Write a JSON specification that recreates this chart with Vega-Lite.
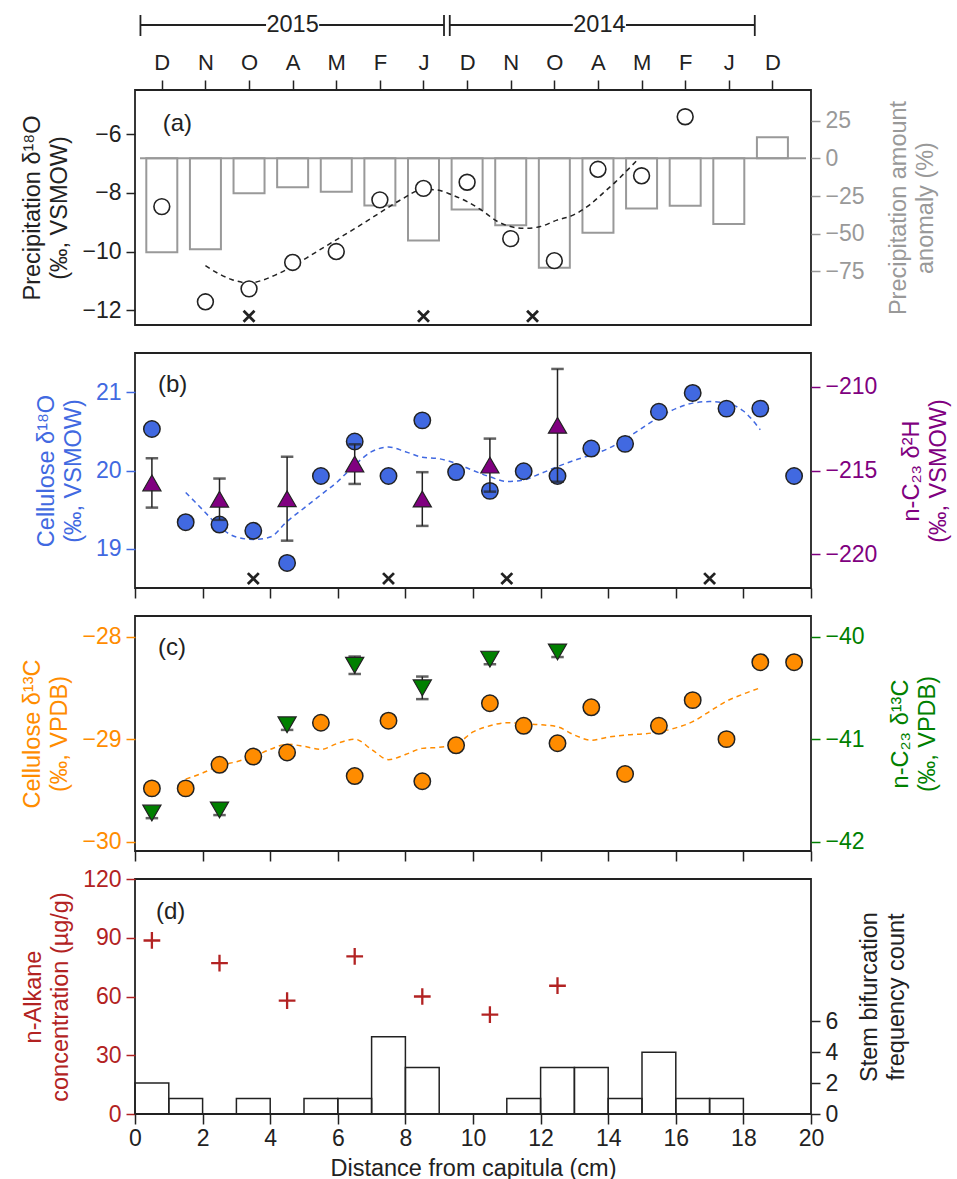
{
  "$schema": "https://vega.github.io/schema/vega-lite/v6.json",
  "background": "white",
  "padding": {"left": 20, "top": 13, "right": 2, "bottom": 2},
  "bounds": "flush",
  "spacing": 28,
  "config": {
    "font": "Liberation Sans",
    "view": {"stroke": "#222", "strokeWidth": 1.8},
    "axis": {"labelFontSize": 23, "titleFontSize": 23.5, "titleFontWeight": "normal", "domain": false, "grid": false, "tickSize": 9, "tickWidth": 1.5, "labelPadding": 5, "titlePadding": 10, "titleLineHeight": 27, "labelFlush": false, "labelOverlap": false, "labelBound": false, "labelColor": "#222", "tickColor": "#222", "titleColor": "#222"}
  },
  "datasets": {
    "bracket": [
      {"x0": -0.377, "x1": 2.46, "y0": 0.787, "y1": 0.787},
      {"x0": 3.66, "x1": 6.48, "y0": 0.787, "y1": 0.787},
      {"x0": 6.61, "x1": 9.39, "y0": 0.787, "y1": 0.787},
      {"x0": 10.59, "x1": 13.5, "y0": 0.787, "y1": 0.787},
      {"x0": -0.377, "x1": -0.377, "y0": 0.553, "y1": 1.0},
      {"x0": 6.48, "x1": 6.48, "y0": 0.553, "y1": 1.0},
      {"x0": 6.61, "x1": 6.61, "y0": 0.553, "y1": 1.0},
      {"x0": 13.5, "x1": 13.5, "y0": 0.553, "y1": 1.0}
    ],
    "years": [
      {"x0": 3.06, "y0": 0.787, "label": "2015"},
      {"x0": 9.99, "y0": 0.787, "label": "2014"}
    ],
    "precip": [
      {"i": 0, "month": "D", "anom": -62.3, "d18O": -8.47},
      {"i": 1, "month": "N", "anom": -60.3, "d18O": -11.71},
      {"i": 2, "month": "O", "anom": -23.2, "d18O": -11.27},
      {"i": 3, "month": "A", "anom": -19.2, "d18O": -10.37},
      {"i": 4, "month": "M", "anom": -22.1, "d18O": -10.0},
      {"i": 5, "month": "F", "anom": -31.2, "d18O": -8.24},
      {"i": 6, "month": "J", "anom": -54.4, "d18O": -7.85},
      {"i": 7, "month": "D", "anom": -33.9, "d18O": -7.64},
      {"i": 8, "month": "N", "anom": -44.3, "d18O": -9.56},
      {"i": 9, "month": "O", "anom": -72.5, "d18O": -10.31},
      {"i": 10, "month": "A", "anom": -49.3, "d18O": -7.2},
      {"i": 11, "month": "M", "anom": -33.2, "d18O": -7.42},
      {"i": 12, "month": "F", "anom": -31.4, "d18O": -5.41},
      {"i": 13, "month": "J", "anom": -43.6, "d18O": null},
      {"i": 14, "month": "D", "anom": 13.9, "d18O": null}
    ],
    "zeroA": [{"i": -0.5, "i2": 14.77, "anom": 0}],
    "fitA": [
      {"i": 1.0, "v": -10.48}, {"i": 1.3, "v": -10.75}, {"i": 1.6, "v": -10.95}, {"i": 2.0, "v": -11.07},
      {"i": 2.3, "v": -10.98}, {"i": 2.6, "v": -10.8}, {"i": 3.0, "v": -10.5}, {"i": 3.5, "v": -10.05},
      {"i": 4.0, "v": -9.6}, {"i": 4.5, "v": -9.15}, {"i": 5.0, "v": -8.68}, {"i": 5.5, "v": -8.22},
      {"i": 6.0, "v": -7.88}, {"i": 6.3, "v": -7.9}, {"i": 6.65, "v": -8.07}, {"i": 7.0, "v": -8.3},
      {"i": 7.33, "v": -8.59}, {"i": 7.7, "v": -8.98}, {"i": 8.0, "v": -9.15}, {"i": 8.31, "v": -9.21},
      {"i": 8.68, "v": -9.15}, {"i": 9.06, "v": -8.93}, {"i": 9.43, "v": -8.76}, {"i": 9.81, "v": -8.41},
      {"i": 10.11, "v": -8.02}, {"i": 10.41, "v": -7.62}, {"i": 10.68, "v": -7.22}, {"i": 10.94, "v": -6.83}
    ],
    "crossA": [{"i": 2, "v": -12.2}, {"i": 6, "v": -12.2}, {"i": 8.5, "v": -12.2}],
    "cellO": [
      {"cm": 0.5, "v": 20.53}, {"cm": 1.5, "v": 19.34}, {"cm": 2.5, "v": 19.31}, {"cm": 3.5, "v": 19.23},
      {"cm": 4.5, "v": 18.82}, {"cm": 5.5, "v": 19.93}, {"cm": 6.5, "v": 20.37}, {"cm": 7.5, "v": 19.93},
      {"cm": 8.5, "v": 20.64}, {"cm": 9.5, "v": 19.98}, {"cm": 10.5, "v": 19.74}, {"cm": 11.5, "v": 19.99},
      {"cm": 12.5, "v": 19.93}, {"cm": 13.5, "v": 20.28}, {"cm": 14.5, "v": 20.34}, {"cm": 15.5, "v": 20.75},
      {"cm": 16.5, "v": 20.99}, {"cm": 17.5, "v": 20.79}, {"cm": 18.5, "v": 20.79}, {"cm": 19.5, "v": 19.93}
    ],
    "fitB": [
      {"cm": 1.5, "v": 19.72}, {"cm": 2.0, "v": 19.5}, {"cm": 2.5, "v": 19.28}, {"cm": 3.0, "v": 19.15},
      {"cm": 3.5, "v": 19.12}, {"cm": 4.0, "v": 19.15}, {"cm": 4.5, "v": 19.35}, {"cm": 5.0, "v": 19.52},
      {"cm": 5.5, "v": 19.69}, {"cm": 6.0, "v": 19.86}, {"cm": 6.5, "v": 20.07}, {"cm": 7.0, "v": 20.24},
      {"cm": 7.5, "v": 20.3}, {"cm": 8.0, "v": 20.24}, {"cm": 8.5, "v": 20.17}, {"cm": 9.0, "v": 20.15},
      {"cm": 9.5, "v": 20.09}, {"cm": 10.0, "v": 20.0}, {"cm": 10.5, "v": 19.92}, {"cm": 11.0, "v": 19.86},
      {"cm": 11.5, "v": 19.88}, {"cm": 12.0, "v": 19.96}, {"cm": 12.5, "v": 20.05}, {"cm": 13.0, "v": 20.13},
      {"cm": 13.5, "v": 20.2}, {"cm": 14.0, "v": 20.28}, {"cm": 14.5, "v": 20.4}, {"cm": 15.0, "v": 20.54},
      {"cm": 15.5, "v": 20.68}, {"cm": 16.0, "v": 20.79}, {"cm": 16.5, "v": 20.86}, {"cm": 17.0, "v": 20.88},
      {"cm": 17.5, "v": 20.86}, {"cm": 18.0, "v": 20.76}, {"cm": 18.5, "v": 20.52}
    ],
    "crossB": [{"cm": 3.5, "v": 18.62}, {"cm": 7.5, "v": 18.62}, {"cm": 11.0, "v": 18.62}, {"cm": 17.0, "v": 18.62}],
    "d2H": [
      {"cm": 0.5, "v": -215.74, "err": 1.47}, {"cm": 2.5, "v": -216.71, "err": 1.23},
      {"cm": 4.5, "v": -216.68, "err": 2.5}, {"cm": 6.5, "v": -214.62, "err": 1.18},
      {"cm": 8.5, "v": -216.7, "err": 1.6}, {"cm": 10.5, "v": -214.68, "err": 1.58},
      {"cm": 12.5, "v": -212.31, "err": 3.36}
    ],
    "cellC": [
      {"cm": 0.5, "v": -29.48}, {"cm": 1.5, "v": -29.48}, {"cm": 2.5, "v": -29.25}, {"cm": 3.5, "v": -29.17},
      {"cm": 4.5, "v": -29.13}, {"cm": 5.5, "v": -28.84}, {"cm": 6.5, "v": -29.36}, {"cm": 7.5, "v": -28.82},
      {"cm": 8.5, "v": -29.41}, {"cm": 9.5, "v": -29.06}, {"cm": 10.5, "v": -28.65}, {"cm": 11.5, "v": -28.87},
      {"cm": 12.5, "v": -29.04}, {"cm": 13.5, "v": -28.69}, {"cm": 14.5, "v": -29.34}, {"cm": 15.5, "v": -28.87},
      {"cm": 16.5, "v": -28.62}, {"cm": 17.5, "v": -29.0}, {"cm": 18.5, "v": -28.25}, {"cm": 19.5, "v": -28.25}
    ],
    "fitC": [
      {"cm": 1.5, "v": -29.39}, {"cm": 2.0, "v": -29.33}, {"cm": 2.5, "v": -29.26}, {"cm": 3.0, "v": -29.22},
      {"cm": 3.5, "v": -29.17}, {"cm": 4.0, "v": -29.1}, {"cm": 4.5, "v": -29.05}, {"cm": 5.0, "v": -29.07},
      {"cm": 5.5, "v": -29.1}, {"cm": 6.0, "v": -29.04}, {"cm": 6.5, "v": -29.0}, {"cm": 7.0, "v": -29.1},
      {"cm": 7.5, "v": -29.2}, {"cm": 8.0, "v": -29.15}, {"cm": 8.5, "v": -29.09}, {"cm": 9.0, "v": -29.08},
      {"cm": 9.5, "v": -29.05}, {"cm": 10.0, "v": -28.93}, {"cm": 10.5, "v": -28.87}, {"cm": 11.0, "v": -28.84},
      {"cm": 11.5, "v": -28.85}, {"cm": 12.0, "v": -28.86}, {"cm": 12.5, "v": -28.88}, {"cm": 13.0, "v": -28.96},
      {"cm": 13.5, "v": -29.01}, {"cm": 14.0, "v": -28.98}, {"cm": 14.5, "v": -28.96}, {"cm": 15.0, "v": -28.95},
      {"cm": 15.5, "v": -28.93}, {"cm": 16.0, "v": -28.89}, {"cm": 16.5, "v": -28.83}, {"cm": 17.0, "v": -28.73},
      {"cm": 17.5, "v": -28.63}, {"cm": 18.0, "v": -28.56}, {"cm": 18.5, "v": -28.5}
    ],
    "d13C": [
      {"cm": 0.5, "v": -41.72, "err": 0.05}, {"cm": 2.5, "v": -41.69, "err": 0.05},
      {"cm": 4.5, "v": -40.86, "err": 0.05}, {"cm": 6.5, "v": -40.28, "err": 0.085},
      {"cm": 8.5, "v": -40.5, "err": 0.11}, {"cm": 10.5, "v": -40.22, "err": 0.05},
      {"cm": 12.5, "v": -40.15, "err": 0.05}
    ],
    "hist": [
      {"cm": 0, "cm2": 1, "n": 2}, {"cm": 1, "cm2": 2, "n": 1}, {"cm": 3, "cm2": 4, "n": 1},
      {"cm": 5, "cm2": 6, "n": 1}, {"cm": 6, "cm2": 7, "n": 1}, {"cm": 7, "cm2": 8, "n": 5},
      {"cm": 8, "cm2": 9, "n": 3}, {"cm": 11, "cm2": 12, "n": 1}, {"cm": 12, "cm2": 13, "n": 3},
      {"cm": 13, "cm2": 14, "n": 3}, {"cm": 14, "cm2": 15, "n": 1}, {"cm": 15, "cm2": 16, "n": 4},
      {"cm": 16, "cm2": 17, "n": 1}, {"cm": 17, "cm2": 18, "n": 1}
    ],
    "alkane": [
      {"cm": 0.5, "v": 88.6}, {"cm": 2.5, "v": 77.0}, {"cm": 4.5, "v": 57.9}, {"cm": 6.5, "v": 80.5},
      {"cm": 8.5, "v": 60.0}, {"cm": 10.5, "v": 50.7}, {"cm": 12.5, "v": 65.5}
    ]
  },
  "vconcat": [
    {
      "width": 676, "height": 47,
      "view": {"stroke": null},
      "encoding": {
        "x": {"field": "x0", "type": "quantitative", "scale": {"domain": [-0.5, 14.77], "nice": false, "zero": false}, "axis": null},
        "y": {"field": "y0", "type": "quantitative", "scale": {"domain": [0, 1], "nice": false, "zero": false}, "axis": null}
      },
      "layer": [
        {
          "data": {"name": "bracket"},
          "mark": {"type": "rule", "stroke": "#222", "strokeWidth": 1.8},
          "encoding": {"x2": {"field": "x1"}, "y2": {"field": "y1"}}
        },
        {
          "data": {"name": "years"},
          "mark": {"type": "text", "fontSize": 23.5, "align": "center", "baseline": "middle", "color": "#222"},
          "encoding": {"text": {"field": "label"}}
        }
      ]
    },
    {
      "width": 676, "height": 235,
      "resolve": {"scale": {"y": "independent"}},
      "encoding": {
        "x": {"field": "i", "type": "quantitative", "scale": {"domain": [-0.5, 14.77], "nice": false, "zero": false},
          "axis": {"title": null, "orient": "top", "values": [0, 1, 2, 3, 4, 5, 6, 7, 8, 9, 10, 11, 12, 13, 14], "labelExpr": "['D','N','O','A','M','F','J','D','N','O','A','M','F','J','D'][datum.value]", "tickSize": 10, "labelFontSize": 22, "labelPadding": 6}}
      },
      "layer": [
        {
          "encoding": {
            "y": {"field": "anom", "type": "quantitative", "scale": {"domain": [-110.5, 45.3], "nice": false, "zero": false},
              "axis": {"title": ["Precipitation amount", "anomaly (%)"], "orient": "right", "values": [-75, -50, -25, 0, 25], "labelExpr": "replace(datum.label, '-', '−')", "labelColor": "#999999", "tickColor": "#999999", "titleColor": "#999999", "titleAngle": -90, "titleBaseline": "top", "titlePadding": -5}}
          },
          "layer": [
            {
              "data": {"name": "precip"},
              "mark": {"type": "bar", "width": 31, "fill": "transparent", "stroke": "#999999", "strokeWidth": 2},
              "encoding": {"y2": {"datum": 0}}
            },
            {
              "data": {"name": "zeroA"},
              "mark": {"type": "rule", "stroke": "#999999", "strokeWidth": 2},
              "encoding": {"x2": {"field": "i2"}}
            }
          ]
        },
        {
          "encoding": {
            "y": {"field": "v", "type": "quantitative", "scale": {"domain": [-12.5, -4.5], "nice": false, "zero": false},
              "axis": {"title": ["Precipitation δ¹⁸O", "(‰, VSMOW)"], "orient": "left", "values": [-12, -10, -8, -6], "labelExpr": "replace(datum.label, '-', '−')"}}
          },
          "layer": [
            {
              "data": {"name": "fitA"},
              "mark": {"type": "line", "stroke": "#222", "strokeWidth": 1.5, "strokeDash": [5, 4], "interpolate": "monotone"}
            },
            {
              "data": {"name": "precip"},
              "mark": {"type": "point", "shape": "circle", "filled": true, "fill": "white", "stroke": "#222", "strokeWidth": 1.6, "size": 250, "opacity": 1},
              "encoding": {
                "y": {"field": "d18O", "type": "quantitative", "scale": {"domain": [-12.5, -4.5], "nice": false, "zero": false},
                  "axis": {"title": ["Precipitation δ¹⁸O", "(‰, VSMOW)"], "orient": "left", "values": [-12, -10, -8, -6], "labelExpr": "replace(datum.label, '-', '−')"}}
              }
            },
            {
              "data": {"name": "crossA"},
              "mark": {"type": "point", "shape": "M-1,-1L1,1M-1,1L1,-1", "filled": false, "stroke": "#222", "strokeWidth": 2.8, "size": 120, "opacity": 1}
            },
            {
              "data": {"values": [{"i": 0.02, "v": -5.66, "t": "(a)"}]},
              "mark": {"type": "text", "align": "left", "baseline": "middle", "fontSize": 24, "color": "#222"},
              "encoding": {"text": {"field": "t"}}
            }
          ]
        }
      ]
    },
    {
      "width": 676, "height": 235,
      "resolve": {"scale": {"y": "independent"}},
      "encoding": {
        "x": {"field": "cm", "type": "quantitative", "scale": {"domain": [0, 20], "nice": false, "zero": false},
          "axis": {"title": null, "orient": "bottom", "values": [0, 2, 4, 6, 8, 10, 12, 14, 16, 18, 20], "labels": false, "tickSize": 10}}
      },
      "layer": [
        {
          "encoding": {
            "y": {"field": "v", "type": "quantitative", "scale": {"domain": [18.5, 21.5], "nice": false, "zero": false},
              "axis": {"title": ["Cellulose δ¹⁸O", "(‰, VSMOW)"], "orient": "left", "values": [19, 20, 21], "labelColor": "#4169e1", "tickColor": "#4169e1", "titleColor": "#4169e1"}}
          },
          "layer": [
            {
              "data": {"name": "fitB"},
              "mark": {"type": "line", "stroke": "#4169e1", "strokeWidth": 1.5, "strokeDash": [5, 4], "interpolate": "monotone"}
            },
            {
              "data": {"name": "cellO"},
              "mark": {"type": "point", "shape": "circle", "filled": true, "fill": "#4169e1", "stroke": "#222", "strokeWidth": 1.5, "size": 270, "opacity": 1}
            },
            {
              "data": {"name": "crossB"},
              "mark": {"type": "point", "shape": "M-1,-1L1,1M-1,1L1,-1", "filled": false, "stroke": "#222", "strokeWidth": 2.8, "size": 120, "opacity": 1}
            },
            {
              "data": {"values": [{"cm": 0.68, "v": 21.09, "t": "(b)"}]},
              "mark": {"type": "text", "align": "left", "baseline": "middle", "fontSize": 24, "color": "#222"},
              "encoding": {"text": {"field": "t"}}
            }
          ]
        },
        {
          "data": {"name": "d2H"},
          "encoding": {
            "y": {"field": "v", "type": "quantitative", "scale": {"domain": [-222, -208], "nice": false, "zero": false},
              "axis": {"title": ["n-C₂₃ δ²H", "(‰, VSMOW)"], "orient": "right", "values": [-220, -215, -210], "labelExpr": "replace(datum.label, '-', '−')", "labelColor": "#800080", "tickColor": "#800080", "titleColor": "#800080", "titleAngle": -90, "titleBaseline": "top", "titlePadding": -4}}
          },
          "layer": [
            {
              "mark": {"type": "errorbar", "color": "#222", "ticks": {"size": 11, "stroke": "#222", "strokeWidth": 1.5}, "rule": {"stroke": "#222", "strokeWidth": 1.5}},
              "encoding": {"yError": {"field": "err"}}
            },
            {
              "mark": {"type": "point", "shape": "triangle-up", "filled": true, "fill": "#800080", "stroke": "#222", "strokeWidth": 1.2, "size": 330, "opacity": 1}
            }
          ]
        }
      ]
    },
    {
      "width": 676, "height": 235,
      "resolve": {"scale": {"y": "independent"}},
      "encoding": {
        "x": {"field": "cm", "type": "quantitative", "scale": {"domain": [0, 20], "nice": false, "zero": false},
          "axis": {"title": null, "orient": "bottom", "values": [0, 2, 4, 6, 8, 10, 12, 14, 16, 18, 20], "labels": false, "tickSize": 10}}
      },
      "layer": [
        {
          "encoding": {
            "y": {"field": "v", "type": "quantitative", "scale": {"domain": [-30.09, -27.8], "nice": false, "zero": false},
              "axis": {"title": ["Cellulose δ¹³C", "(‰, VPDB)"], "orient": "left", "values": [-30, -29, -28], "labelExpr": "replace(datum.label, '-', '−')", "labelColor": "#ff8c00", "tickColor": "#ff8c00", "titleColor": "#ff8c00"}}
          },
          "layer": [
            {
              "data": {"name": "fitC"},
              "mark": {"type": "line", "stroke": "#ff8c00", "strokeWidth": 1.5, "strokeDash": [5, 4], "interpolate": "monotone"}
            },
            {
              "data": {"name": "cellC"},
              "mark": {"type": "point", "shape": "circle", "filled": true, "fill": "#ff8c00", "stroke": "#222", "strokeWidth": 1.5, "size": 270, "opacity": 1}
            },
            {
              "data": {"values": [{"cm": 0.68, "v": -28.11, "t": "(c)"}]},
              "mark": {"type": "text", "align": "left", "baseline": "middle", "fontSize": 24, "color": "#222"},
              "encoding": {"text": {"field": "t"}}
            }
          ]
        },
        {
          "data": {"name": "d13C"},
          "encoding": {
            "y": {"field": "v", "type": "quantitative", "scale": {"domain": [-42.09, -39.8], "nice": false, "zero": false},
              "axis": {"title": ["n-C₂₃ δ¹³C", "(‰, VPDB)"], "orient": "right", "values": [-42, -41, -40], "labelExpr": "replace(datum.label, '-', '−')", "labelColor": "#008000", "tickColor": "#008000", "titleColor": "#008000", "titleAngle": -90, "titleBaseline": "top", "titlePadding": -3}}
          },
          "layer": [
            {
              "mark": {"type": "errorbar", "color": "#222", "ticks": {"size": 11, "stroke": "#222", "strokeWidth": 1.5}, "rule": {"stroke": "#222", "strokeWidth": 1.5}},
              "encoding": {"yError": {"field": "err"}}
            },
            {
              "mark": {"type": "point", "shape": "triangle-down", "filled": true, "fill": "#008000", "stroke": "#222", "strokeWidth": 1.2, "size": 330, "opacity": 1}
            }
          ]
        }
      ]
    },
    {
      "width": 676, "height": 235,
      "resolve": {"scale": {"y": "independent"}},
      "encoding": {
        "x": {"field": "cm", "type": "quantitative", "scale": {"domain": [0, 20], "nice": false, "zero": false},
          "axis": {"title": "Distance from capitula (cm)", "orient": "bottom", "values": [0, 2, 4, 6, 8, 10, 12, 14, 16, 18, 20], "tickSize": 10, "labelPadding": 3, "titlePadding": 6}}
      },
      "layer": [
        {
          "data": {"name": "hist"},
          "mark": {"type": "rect", "fill": "transparent", "stroke": "#222", "strokeWidth": 1.5},
          "encoding": {
            "x2": {"field": "cm2"},
            "y": {"field": "n", "type": "quantitative", "scale": {"domain": [0, 15.2], "nice": false, "zero": false},
              "axis": {"title": ["Stem bifurcation", "frequency count"], "orient": "right", "values": [0, 2, 4, 6], "titleAngle": -90, "titleBaseline": "top", "titlePadding": -7}},
            "y2": {"datum": 0}
          }
        },
        {
          "encoding": {
            "y": {"field": "v", "type": "quantitative", "scale": {"domain": [0, 120], "nice": false, "zero": false},
              "axis": {"title": ["n-Alkane", "concentration (µg/g)"], "orient": "left", "values": [0, 30, 60, 90, 120], "labelColor": "#b22222", "tickColor": "#b22222", "titleColor": "#b22222"}}
          },
          "layer": [
            {
              "data": {"name": "alkane"},
              "mark": {"type": "point", "shape": "M-1,0L1,0M0,-1L0,1", "filled": false, "stroke": "#b22222", "strokeWidth": 2.3, "size": 280, "opacity": 1}
            },
            {
              "data": {"values": [{"cm": 0.62, "v": 103.4, "t": "(d)"}]},
              "mark": {"type": "text", "align": "left", "baseline": "middle", "fontSize": 24, "color": "#222"},
              "encoding": {"text": {"field": "t"}}
            }
          ]
        }
      ]
    }
  ]
}
